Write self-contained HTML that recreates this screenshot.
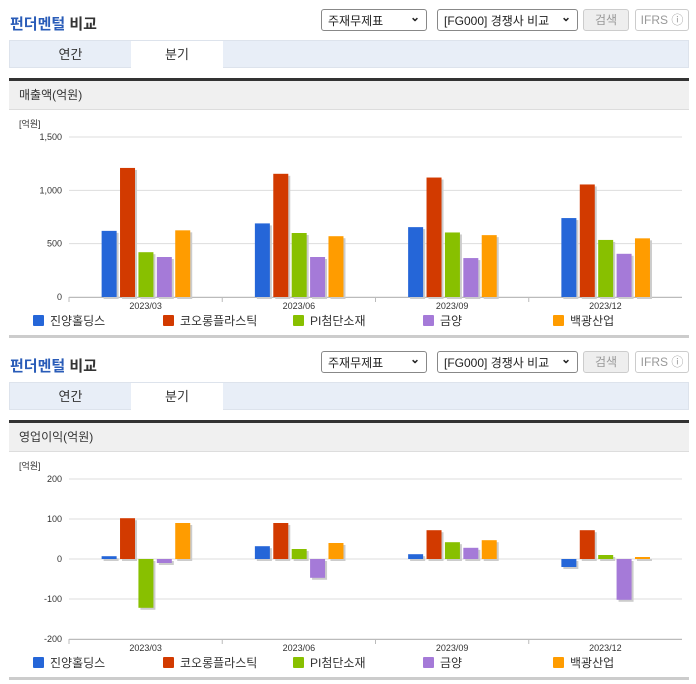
<!DOCTYPE html>
<html><head><meta charset="utf-8">
<style>
body{margin:0;width:696px;height:684px;background:#fff;font-family:"Liberation Sans","Noto Sans CJK KR",sans-serif;position:relative;overflow:hidden}
.blk{position:absolute;left:0;width:696px;height:342px}
.title{position:absolute;left:10px;top:13px;font-size:15px;font-weight:bold;color:#333}
.title span{color:#2a5cb8}
.sel{position:absolute;top:9px;height:22px;border:1px solid #888;border-radius:3px;font-size:12px;line-height:22px;padding-left:6px;box-sizing:border-box;color:#222;background:#fff}
.sel:after{content:"⌄";position:absolute;right:6px;top:-4px;font-weight:bold}
.btn{position:absolute;top:9px;height:22px;border:1px solid #ccc;border-radius:3px;font-size:12px;line-height:20px;text-align:center;box-sizing:border-box;color:#999}
.tabs{position:absolute;left:9px;top:40px;width:680px;height:28px;background:#e8eef7;border:1px solid #dde3ec;box-sizing:border-box}
.tab{position:absolute;top:0;height:28px;line-height:27px;font-size:13px;text-align:center;color:#333}
.dark{position:absolute;left:9px;top:78px;width:680px;height:3px;background:#333}
.hdr{position:absolute;left:9px;top:81px;width:680px;height:29px;background:#f0f0f0;font-size:12px;line-height:29px;padding-left:10px;box-sizing:border-box;color:#333;border-bottom:1px solid #ddd}
.bot{position:absolute;left:9px;top:335px;width:680px;height:3px;background:#ccc}
svg{position:absolute;left:0;top:110px}
</style></head><body>
<div class="blk" style="top:0">
<div class="title"><span>펀더멘털</span> 비교</div>
<div class="sel" style="left:321px;width:106px">주재무제표</div>
<div class="sel" style="left:437px;width:141px">[FG000] 경쟁사 비교</div>
<div class="btn" style="left:583px;width:46px;background:#eee">검색</div>
<div class="btn" style="left:635px;width:54px">IFRS ⓘ</div>
<div class="tabs"><div class="tab" style="left:0;width:121px">연간</div><div class="tab" style="left:121px;width:92px;background:#fff;height:29px">분기</div></div>
<div class="dark"></div>
<div class="hdr">매출액(억원)</div>
<svg id="c1" width="696" height="230"></svg>
<div class="bot"></div>
</div>
<div class="blk" style="top:342px">
<div class="title"><span>펀더멘털</span> 비교</div>
<div class="sel" style="left:321px;width:106px">주재무제표</div>
<div class="sel" style="left:437px;width:141px">[FG000] 경쟁사 비교</div>
<div class="btn" style="left:583px;width:46px;background:#eee">검색</div>
<div class="btn" style="left:635px;width:54px">IFRS ⓘ</div>
<div class="tabs"><div class="tab" style="left:0;width:121px">연간</div><div class="tab" style="left:121px;width:92px;background:#fff;height:29px">분기</div></div>
<div class="dark"></div>
<div class="hdr">영업이익(억원)</div>
<svg id="c2" width="696" height="230"></svg>
<div class="bot"></div>
</div>
<script>
const categories=["2023/03","2023/06","2023/09","2023/12"];
const seriesNames=["진양홀딩스","코오롱플라스틱","PI첨단소재","금양","백광산업"];
const revJinyang=[620,690,655,740];
const revKolon=[1210,1155,1120,1055];
const revPI=[420,600,605,535];
const revKumyang=[375,375,365,405];
const revBaekkwang=[625,570,580,550];
const opJinyang=[7,32,12,-20];
const opKolon=[102,90,72,72];
const opPI=[-122,25,42,10];
const opKumyang=[-10,-47,28,-102];
const opBaekkwang=[90,40,47,5];
const revTicks=[0,500,1000,1500];
const revTickLabels=["0","500","1,000","1,500"];
const opTicks=[-200,-100,0,100,200];
const opTickLabels=["-200","-100","0","100","200"];
const colors=["#2566d8","#d23a00","#88c000","#a57ad8","#ff9c00"];
const NS="http://www.w3.org/2000/svg";
function mk(svg,tag,at,txt){const e=document.createElementNS(NS,tag);for(const k in at)e.setAttribute(k,at[k]);if(txt!=null)e.textContent=txt;svg.appendChild(e);return e;}
function draw(id,series,ticks,labels,min,max){
 const svg=document.getElementById(id);
 const L=69,R=682,T=27,B=187;
 const y=v=>B-(v-min)/(max-min)*(B-T);
 const cw=(R-L)/categories.length;
 const x=i=>L+cw*(i+0.5);
 let t=mk(svg,'text',{x:19,y:17,'font-size':9,fill:'#333'},'[억원]');
 
 ticks.forEach((v,i)=>{
  let g=mk(svg,'line',{x1:L,x2:R,y1:y(v),y2:y(v),stroke:'#ddd','stroke-width':1});
  
  let l=mk(svg,'text',{x:L-7,y:y(v)+3,'font-size':9,'text-anchor':'end',fill:'#333'},labels[i]);
  
 });
 let ax=mk(svg,'line',{x1:L,x2:R,y1:B+0.5,y2:B+0.5,stroke:'#bbb'});
 
 const zero=y(Math.max(min,0));
 categories.forEach((c,i)=>{
  let tk=mk(svg,'line',{x1:L+cw*i,x2:L+cw*i,y1:B,y2:B+5,stroke:'#bbb'});
  
  let cl=mk(svg,'text',{x:x(i),y:B+12,'font-size':9,'text-anchor':'middle',fill:'#333'},c);
  
  series.forEach((s,j)=>{
   const bx=x(i)-44+j*18.4, v=s[i];
   const y0=Math.min(y(v),zero), h=Math.abs(y(v)-zero);
   let sh=mk(svg,'rect',{x:bx+2,y:y0+2,width:15,height:h,fill:'#ccc'});
   
   let r=mk(svg,'rect',{x:bx,y:y0,width:15,height:h,fill:colors[j]});
   
  });
 });
 seriesNames.forEach((n,j)=>{
  let sq=mk(svg,'rect',{x:33+130*j,y:205,width:11,height:11,rx:1,fill:colors[j]});
  
  let lt=mk(svg,'text',{x:50+130*j,y:215,'font-size':12,fill:'#333'},n);
  
 });
}
draw('c1',[revJinyang,revKolon,revPI,revKumyang,revBaekkwang],revTicks,revTickLabels,0,1500);
draw('c2',[opJinyang,opKolon,opPI,opKumyang,opBaekkwang],opTicks,opTickLabels,-200,200);
</script>
</body></html>
